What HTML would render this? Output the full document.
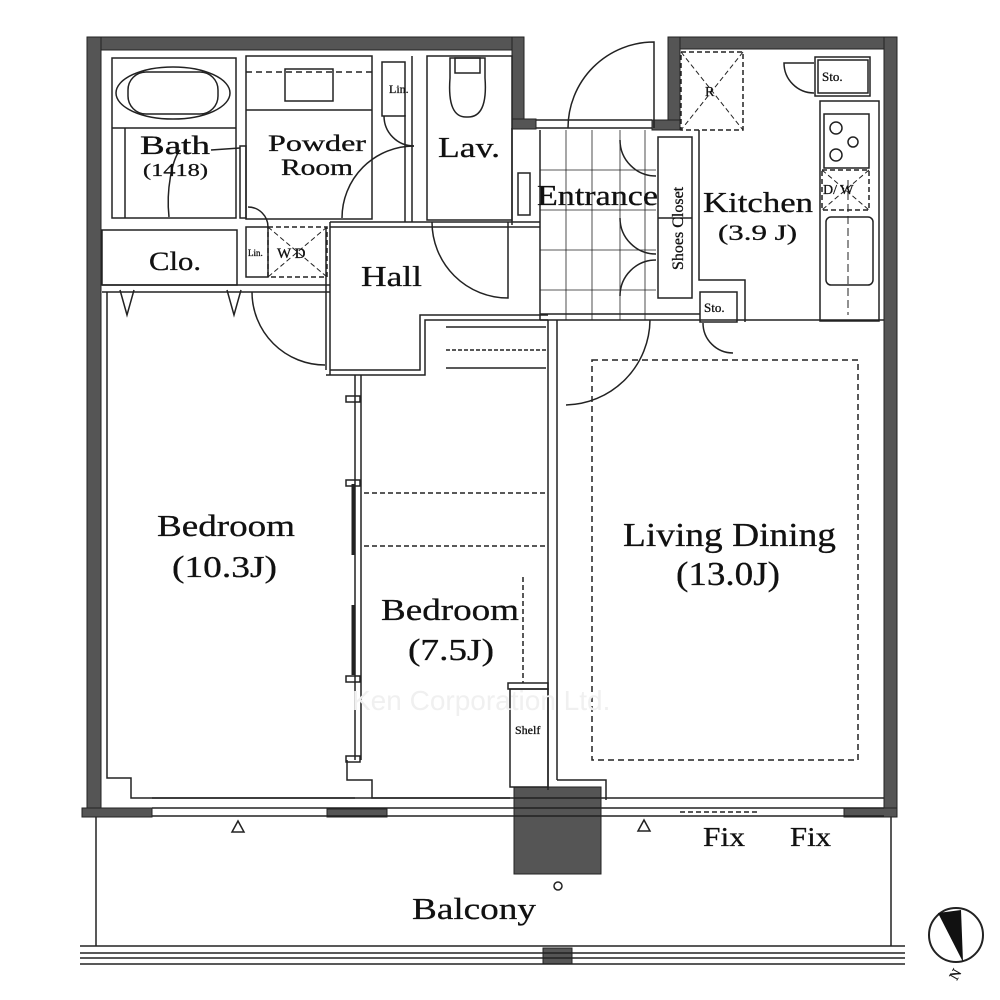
<!DOCTYPE html>
<html><head><meta charset="utf-8"><style>
html,body{margin:0;padding:0;background:#fff}
svg{display:block}
text{font-family:"Liberation Serif",serif;fill:#111;stroke:#111;stroke-width:0.3}
</style></head><body>
<svg width="1000" height="1000" viewBox="0 0 1000 1000" xmlns="http://www.w3.org/2000/svg">
<g fill="#555" stroke="#222" stroke-width="1">
<rect x="87" y="37" width="437" height="13"/>
<rect x="87" y="37" width="14" height="780"/>
<rect x="512" y="37" width="12" height="92"/>
<rect x="512" y="119" width="24" height="10"/>
<rect x="668" y="37" width="229" height="12"/>
<rect x="668" y="37" width="12" height="93"/>
<rect x="652" y="120" width="28" height="10"/>
<rect x="884" y="37" width="13" height="780"/>
<rect x="844" y="808" width="53" height="9"/>
<rect x="82" y="808" width="70" height="9"/>
<rect x="327" y="809" width="60" height="8"/>
<rect x="514" y="787" width="87" height="87"/>
<rect x="543" y="948" width="29" height="16"/>
</g>
<g fill="none" stroke="#222" stroke-width="1.5">
<rect x="112" y="58" width="124" height="160"/>
<line x1="112" y1="128" x2="236" y2="128"/>
<line x1="125" y1="128" x2="125" y2="218"/>
<ellipse cx="173" cy="93" rx="57" ry="26"/>
<rect x="128" y="72" width="90" height="42" rx="18"/>
<path d="M169 217 C166 190 172 160 180 150"/>
<path d="M211 150 L240 148"/>
<rect x="240" y="146" width="6" height="72"/>
<rect x="246" y="56" width="126" height="163"/>
<line x1="246" y1="110" x2="372" y2="110"/>
<line x1="246" y1="72" x2="372" y2="72" stroke-dasharray="6,4"/>
<rect x="285" y="69" width="48" height="32"/>
<rect x="382" y="62" width="23" height="54"/>
<line x1="405" y1="115" x2="405" y2="222"/>
<line x1="412" y1="56" x2="412" y2="222"/>
<path d="M384 116 A30 30 0 0 0 414 146"/>
<path d="M414 146 A72 72 0 0 0 342 218"/>
<rect x="427" y="56" width="85" height="164"/>
<path d="M450 58 h35 v20 q3 40 -18 39 q-20 1 -17 -39 z"/>
<rect x="455" y="58" width="25" height="15"/>
<line x1="512" y1="128" x2="512" y2="225"/>
<rect x="518" y="173" width="12" height="42"/>
<path d="M432 222 A76 76 0 0 0 508 298 L508 222"/>
<line x1="330" y1="222" x2="540" y2="222"/>
<line x1="330" y1="227" x2="540" y2="227"/>
<rect x="102" y="230" width="135" height="55"/>
<line x1="102" y1="285" x2="330" y2="285"/>
<line x1="102" y1="292" x2="330" y2="292"/>
<rect x="246" y="227" width="22" height="50"/>
<rect x="268" y="227" width="59" height="50" stroke-dasharray="5,3"/>
<path d="M268 227 L327 277 M327 227 L268 277" stroke-dasharray="5,3" stroke-width="1"/>
<path d="M248 207 A20 20 0 0 1 268 227"/>
<path d="M120 290 l7 25 l7 -25 M227 290 l7 25 l7 -25"/>
<line x1="330" y1="222" x2="330" y2="375"/>
<line x1="326" y1="227" x2="326" y2="370"/>
<path d="M252 292 A73 73 0 0 0 325 365"/>
<path d="M326 375 H425 V320 H548"/>
<path d="M330 370 H420 V315 H548"/>
<line x1="446" y1="327" x2="546" y2="327"/>
<line x1="446" y1="350" x2="546" y2="350" stroke-dasharray="4,2"/>
<line x1="446" y1="368" x2="546" y2="368"/>
<path d="M107 292 V778 H131 V798 H355"/>
<line x1="355" y1="375" x2="355" y2="760"/>
<line x1="361" y1="375" x2="361" y2="760"/>
<rect x="346" y="396" width="14" height="6"/>
<rect x="346" y="480" width="14" height="6"/>
<rect x="346" y="676" width="14" height="6"/>
<rect x="346" y="756" width="14" height="6"/>
<line x1="353" y1="484" x2="353" y2="555" stroke-width="3"/>
<line x1="353" y1="605" x2="353" y2="675" stroke-width="3"/>
<path d="M347 760 V780 H372 V798 H510"/>
<line x1="548" y1="320" x2="548" y2="790"/>
<line x1="557" y1="320" x2="557" y2="780"/>
<line x1="364" y1="493" x2="546" y2="493" stroke-dasharray="5,3"/>
<line x1="364" y1="546" x2="546" y2="546" stroke-dasharray="5,3"/>
<line x1="523" y1="577" x2="523" y2="683" stroke-dasharray="5,3"/>
<rect x="508" y="683" width="40" height="6"/>
<rect x="510" y="689" width="38" height="98"/>
<path d="M557 780 H606 V800"/>
<line x1="152" y1="798" x2="884" y2="798"/>
<line x1="152" y1="808" x2="884" y2="808"/>
<line x1="152" y1="816" x2="884" y2="816"/>
<line x1="680" y1="812" x2="760" y2="812" stroke-dasharray="5,3"/>
<path d="M232 832 l6 -11 l6 11 z M638 831 l6 -11 l6 11 z"/>
<line x1="96" y1="817" x2="96" y2="946"/>
<line x1="891" y1="817" x2="891" y2="946"/>
<line x1="80" y1="946" x2="905" y2="946"/>
<line x1="80" y1="953" x2="905" y2="953"/>
<line x1="80" y1="958" x2="905" y2="958"/>
<line x1="80" y1="964" x2="905" y2="964"/>
<circle cx="558" cy="886" r="4"/>
<path d="M568 128 A86 86 0 0 1 654 42 V128"/>
<line x1="536" y1="120" x2="652" y2="120"/>
<line x1="536" y1="128" x2="652" y2="128"/>
<line x1="540" y1="130" x2="540" y2="320"/>
<line x1="566" y1="130" x2="566" y2="320" stroke-width="0.8"/>
<line x1="592" y1="130" x2="592" y2="320" stroke-width="0.8"/>
<line x1="620" y1="130" x2="620" y2="320" stroke-width="0.8"/>
<line x1="645" y1="130" x2="645" y2="320" stroke-width="0.8"/>
<line x1="540" y1="170" x2="656" y2="170" stroke-width="0.8"/>
<line x1="540" y1="210" x2="656" y2="210" stroke-width="0.8"/>
<line x1="540" y1="250" x2="656" y2="250" stroke-width="0.8"/>
<line x1="540" y1="290" x2="656" y2="290" stroke-width="0.8"/>
<rect x="658" y="137" width="34" height="161"/>
<line x1="658" y1="218" x2="692" y2="218"/>
<path d="M620 140 A36 36 0 0 0 656 176 M620 218 A36 36 0 0 0 656 254 M620 296 A36 36 0 0 1 656 260"/>
<line x1="540" y1="320" x2="884" y2="320"/>
<line x1="540" y1="314" x2="700" y2="314"/>
<path d="M566 405 A86 86 0 0 0 650 320"/>
<path d="M699 130 V280 H745 V322"/>
<rect x="681" y="52" width="62" height="78" stroke-dasharray="5,3"/>
<path d="M681 52 L743 130 M743 52 L681 130" stroke-dasharray="5,3" stroke-width="1"/>
<rect x="700" y="292" width="37" height="30"/>
<path d="M703 323 A30 30 0 0 0 733 353"/>
<rect x="815" y="57" width="55" height="39"/>
<rect x="818" y="60" width="50" height="33"/>
<path d="M814 93 A30 30 0 0 1 784 63 L814 63"/>
<rect x="820" y="101" width="59" height="220"/>
<rect x="824" y="114" width="45" height="54"/>
<circle cx="836" cy="128" r="6"/><circle cx="836" cy="155" r="6"/><circle cx="853" cy="142" r="5"/>
<rect x="822" y="170" width="47" height="40" stroke-dasharray="5,3"/>
<path d="M822 170 L869 210 M869 170 L822 210" stroke-dasharray="5,3" stroke-width="1"/>
<rect x="826" y="217" width="47" height="68" rx="5"/>
<line x1="848" y1="180" x2="848" y2="315" stroke-dasharray="8,4" stroke-width="1"/>
<rect x="592" y="360" width="266" height="400" stroke-dasharray="6,4"/>
<circle cx="956" cy="935" r="27" stroke-width="2"/>
</g>
<path d="M938 913 L961 910 L963 962 Z" fill="#111"/>
<g font-size="26">
<text x="140" y="154" textLength="70" lengthAdjust="spacingAndGlyphs">Bath</text>
<text x="143" y="176" font-size="18" textLength="65" lengthAdjust="spacingAndGlyphs">(1418)</text>
<text x="268" y="151" font-size="23" textLength="98" lengthAdjust="spacingAndGlyphs">Powder</text>
<text x="281" y="175" font-size="23" textLength="72" lengthAdjust="spacingAndGlyphs">Room</text>
<text x="438" y="157" font-size="28" textLength="62" lengthAdjust="spacingAndGlyphs">Lav.</text>
<text x="537" y="205" font-size="28" textLength="121" lengthAdjust="spacingAndGlyphs">Entrance</text>
<text x="703" y="212" font-size="28" textLength="110" lengthAdjust="spacingAndGlyphs">Kitchen</text>
<text x="718" y="240" font-size="22" textLength="79" lengthAdjust="spacingAndGlyphs">(3.9 J)</text>
<text x="149" y="270" font-size="26" textLength="52" lengthAdjust="spacingAndGlyphs">Clo.</text>
<text x="361" y="286" font-size="28" textLength="61" lengthAdjust="spacingAndGlyphs">Hall</text>
<text x="157" y="536" font-size="31" textLength="138" lengthAdjust="spacingAndGlyphs">Bedroom</text>
<text x="172" y="577" font-size="31" textLength="105" lengthAdjust="spacingAndGlyphs">(10.3J)</text>
<text x="381" y="620" font-size="31" textLength="138" lengthAdjust="spacingAndGlyphs">Bedroom</text>
<text x="408" y="660" font-size="31" textLength="86" lengthAdjust="spacingAndGlyphs">(7.5J)</text>
<text x="623" y="546" font-size="34" textLength="213" lengthAdjust="spacingAndGlyphs">Living Dining</text>
<text x="676" y="585" font-size="34" textLength="104" lengthAdjust="spacingAndGlyphs">(13.0J)</text>
<text x="412" y="919" font-size="31" textLength="124" lengthAdjust="spacingAndGlyphs">Balcony</text>
<text x="703" y="846" font-size="27" textLength="42" lengthAdjust="spacingAndGlyphs">Fix</text>
<text x="790" y="846" font-size="27" textLength="41" lengthAdjust="spacingAndGlyphs">Fix</text>
<text x="389" y="93" font-size="12">Lin.</text>
<text x="248" y="256" font-size="9">Lin.</text>
<text x="277" y="258" font-size="15">W D</text>
<text x="705" y="96" font-size="14">R</text>
<text x="822" y="81" font-size="13">Sto.</text>
<text x="704" y="312" font-size="13">Sto.</text>
<text x="823" y="194" font-size="14">D/ W</text>
<text x="515" y="734" font-size="12">Shelf</text>
<text transform="translate(683,270) rotate(-90)" font-size="16">Shoes Closet</text>
<text x="948" y="978" font-size="14" transform="rotate(-60 955 972)">N</text>
<text x="352" y="710" font-size="28" style="fill:#f0f0f0;stroke:none;font-family:'Liberation Sans',sans-serif">Ken Corporation Ltd.</text>
</g>
</svg>
</body></html>
